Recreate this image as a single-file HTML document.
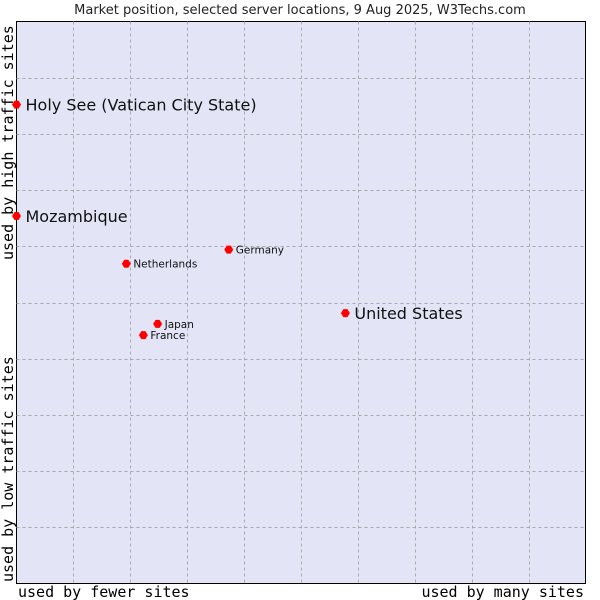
<!DOCTYPE html>
<html><head><meta charset="utf-8"><style>
body{margin:0;background:#fff;}
svg{display:block;font-family:"DejaVu Sans","Liberation Sans",sans-serif;}
</style></head><body>
<svg id="c" width="600" height="600" viewBox="0 0 600 600">
<text x="300" y="14" text-anchor="middle" font-size="13" fill="#222">Market position, selected server locations, 9 Aug 2025, W3Techs.com</text>
<rect x="16.5" y="21.5" width="569" height="562" fill="#e3e5f7" stroke="#000" stroke-width="1"/>
<g id="grid"></g>
<g id="pts"></g>
<text x="14" y="302" transform="rotate(-90 14 302)" text-anchor="middle" font-family="'DejaVu Sans Mono','Liberation Mono',monospace" font-size="15" fill="#000" style="display:none"></text>
<text transform="translate(13,582) rotate(-90)" font-family="'DejaVu Sans Mono','Liberation Mono',monospace" font-size="15" fill="#000">used by low traffic sites</text>
<text transform="translate(13,260) rotate(-90)" font-family="'DejaVu Sans Mono','Liberation Mono',monospace" font-size="15" fill="#000">used by high traffic sites</text>
<text x="18" y="597" font-family="'DejaVu Sans Mono','Liberation Mono',monospace" font-size="15" fill="#000">used by fewer sites</text>
<text x="584" y="597" text-anchor="end" font-family="'DejaVu Sans Mono','Liberation Mono',monospace" font-size="15" fill="#000">used by many sites</text>
</svg>
<script>
const names=["Holy See (Vatican City State)","Mozambique","Germany","Netherlands","United States","Japan","France"];
const xVals=[0,0,37.3,19.3,57.8,24.8,22.3];
const yVals=[85.2,65.4,59.4,56.9,48.1,46.2,44.2];
const big=[1,1,0,0,1,0,0];
const L=16.5,T=21.5,W=569,H=562;
const sx=v=>L+v/100*W, sy=v=>T+H-v/100*H;
const NS="http://www.w3.org/2000/svg";
const g=document.getElementById('grid');
for(let i=1;i<10;i++){
 let a=document.createElementNS(NS,'line');
 
 
 let x=Math.round(sx(i*10))+0.5;
 a.setAttribute('x1',x);a.setAttribute('x2',x);a.setAttribute('y1',T);a.setAttribute('y2',T+H);
 a.setAttribute('stroke','#aaa');a.setAttribute('stroke-dasharray','3,3');g.appendChild(a);
 let b=document.createElementNS(NS,'line');
 
 
 let y=Math.round(sy(i*10))+0.5;
 b.setAttribute('x1',L);b.setAttribute('x2',L+W);b.setAttribute('y1',y);b.setAttribute('y2',y);
 b.setAttribute('stroke','#aaa');b.setAttribute('stroke-dasharray','3,3');g.appendChild(b);
}
const p=document.getElementById('pts');
names.forEach((n,i)=>{
 const x=sx(xVals[i]),y=sy(yVals[i]);
 const m=document.createElementNS(NS,'path');
 
 
 m.setAttribute('d',`M${x-4.5} ${y} L${x-2} ${y-4} L${x+2} ${y-4} L${x+4.5} ${y} L${x+2} ${y+4} L${x-2} ${y+4}Z`);
 m.setAttribute('fill','#f00');p.appendChild(m);
 const t=document.createElementNS(NS,'text');
 
 
 t.setAttribute('x',x+(big[i]?9:7));t.setAttribute('y',y+(big[i]?6:4));
 t.setAttribute('font-size',big[i]?16:10.5);t.setAttribute('fill','#111');
 t.textContent=n;p.appendChild(t);
});
</script>
</body></html>
